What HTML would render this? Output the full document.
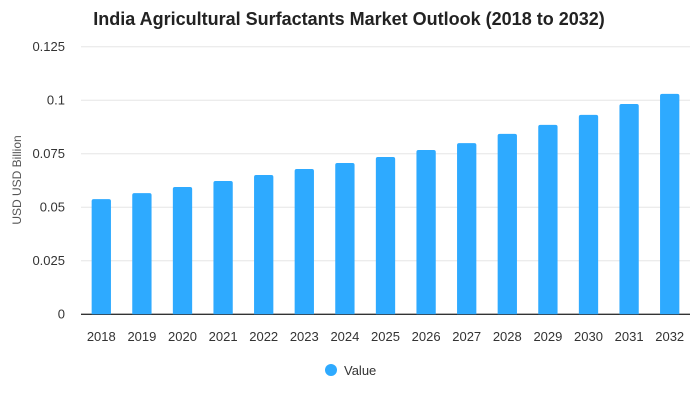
<!DOCTYPE html>
<html><head><meta charset="utf-8"><style>
body{margin:0;background:#fff;font-family:"Liberation Sans",sans-serif}
</style></head><body>
<svg id="chart" width="700" height="400" xmlns="http://www.w3.org/2000/svg">
<text x="349" y="25" text-anchor="middle" font-size="18" font-weight="bold" fill="#222">India Agricultural Surfactants Market Outlook (2018 to 2032)</text>
<text transform="translate(21,180) rotate(-90)" text-anchor="middle" font-size="12" fill="#555">USD USD Billion</text>
<g id="grid"></g><g id="bars"></g><g id="xt"></g>
<g>
<circle cx="331" cy="370" r="6" fill="#2eaaff"/>
<text x="344" y="375" font-size="13" fill="#333">Value</text></g>
</svg>
<script>
const categories=["2018","2019","2020","2021","2022","2023","2024","2025","2026","2027","2028","2029","2030","2031","2032"];
const values=[0.0538,0.0566,0.0595,0.0623,0.0651,0.0679,0.0707,0.0735,0.0768,0.0800,0.0843,0.0885,0.0932,0.0983,0.1030];
const yTicks=[0,0.025,0.05,0.075,0.1,0.125];
const yTickLabels=["0","0.025","0.05","0.075","0.1","0.125"];
const ns="http://www.w3.org/2000/svg";
const L=81,R=690,Y0=314.3,Ytop=46.8,maxV=0.125;
const y=v=>Y0-(v/maxV)*(Y0-Ytop);
const step=(R-L)/categories.length;
const x=i=>L+step*(i+0.5);
const g=document.getElementById('grid'),b=document.getElementById('bars'),xt=document.getElementById('xt');
function mk(t,a){const e=document.createElementNS(ns,t);for(const k in a)e.setAttribute(k,a[k]);return e;}
yTicks.forEach((v,i)=>{
 const ln=mk('line',{x1:L,x2:R,y1:y(v),y2:y(v),stroke:i==0?'#333':'#e6e6e6','stroke-width':i==0?1.3:1});
 
 
 g.appendChild(ln);
 const t=mk('text',{x:65,y:y(v)+4,'text-anchor':'end','font-size':13,fill:'#333'});
 t.textContent=yTickLabels[i];
 
 
 g.appendChild(t);
});
values.forEach((v,i)=>{
 const w=19.3,h=Y0-y(v);
 const p=mk('path',{d:`M${x(i)-w/2},${Y0}V${y(v)+2}Q${x(i)-w/2},${y(v)} ${x(i)-w/2+2},${y(v)}H${x(i)+w/2-2}Q${x(i)+w/2},${y(v)} ${x(i)+w/2},${y(v)+2}V${Y0}Z`,fill:'#2eaaff'});
 
 
 b.appendChild(p);
 const t=mk('text',{x:x(i),y:341,'text-anchor':'middle','font-size':13,fill:'#333'});
 t.textContent=categories[i];
 
 
 xt.appendChild(t);
});
</script>
</body></html>
